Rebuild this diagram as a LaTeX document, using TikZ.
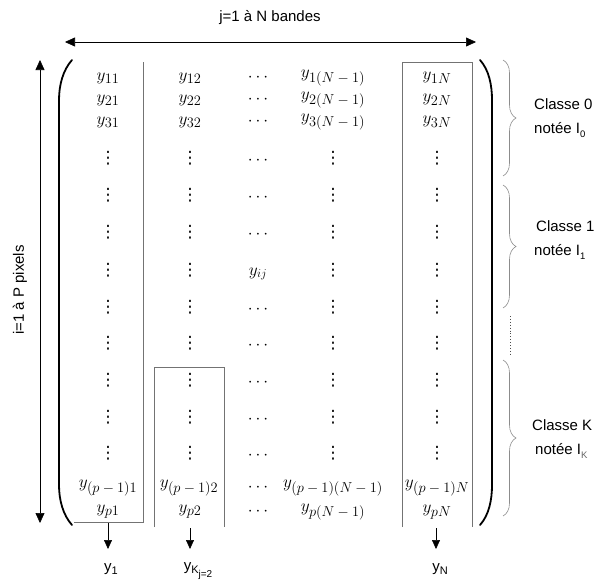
\documentclass[tikz,border=0pt]{standalone}
\usepackage[no-math]{fontspec}
\newfontfamily\lab{Liberation Sans}
\newfontfamily\dvs{DejaVu Sans}
\usetikzlibrary{arrows.meta,decorations.pathreplacing}
\newcommand\mysub[1]{y_{\mbox{\fontsize{14.5}{14.5}\selectfont$#1$}}}
\newcommand\myvd{{\dvs\fontsize{17}{17}\selectfont ⋮}}
\newcommand\lsub[2][11]{\raisebox{-3.5pt}{\fontsize{#1}{#1}\selectfont #2}}
\begin{document}
\begin{tikzpicture}[x=1pt,y=-1pt,
  ent/.style={inner sep=0pt, font=\fontsize{18}{20}\selectfont},
  lab/.style={inner sep=0pt, font=\lab\fontsize{15}{17}\selectfont},
  boxline/.style={draw=black!55, line width=0.8pt},
  paren/.style={line width=1.8pt, line cap=round},
  arr/.style={-{Triangle[length=9pt,width=8pt]}, line width=0.6pt},
  dblarr/.style={{Triangle[length=10pt,width=9pt]}-{Triangle[length=10pt,width=9pt]}, line width=0.6pt},
  br/.style={draw=black!45, line width=0.6pt, decorate, decoration={brace, amplitude=13pt}}]
\useasboundingbox (0,0) rectangle (605,584);
% top and left labels / arrows
\node[lab] (jlab) at (270,18) {j=1 à N bandes};
\coordinate (hl) at (65,42);
\coordinate (hr) at (476,42);
\draw[dblarr] (hl) -- (hr);
\coordinate (vt) at (40,60);
\coordinate (vb) at (40,523);
\draw[dblarr] (vt) -- (vb);
\node[lab, rotate=90] (ilab) at (20,290) {i=1 à P pixels};
% parentheses
\draw[paren] (72,60) .. controls (63,70) and (59,85) .. (59,100) -- (59,485) .. controls (59,500) and (63,515) .. (72,525);
\draw[paren] (480,60) .. controls (489,70) and (492,85) .. (492,100) -- (492,485) .. controls (492,500) and (489,515) .. (480,525);
% boxes
\draw[boxline] (143,62) -- (143,522) -- (74,522);
\draw[boxline] (154,527) -- (154,367) -- (224,367) -- (224,527);
\draw[boxline] (402,527) -- (402,62) -- (472,62) -- (472,527);
% matrix entries
\node[ent] (m1-1) at (108,78) {$\mysub{11}$};
\node[ent] (m1-2) at (190,78) {$\mysub{12}$};
\node[ent] (m1-3) at (258,78) {$\cdots$};
\node[ent] (m1-4) at (333,78) {$\mysub{1(N-1)}$};
\node[ent] (m1-5) at (437,78) {$\mysub{1N}$};
\node[ent] (m2-1) at (108,100) {$\mysub{21}$};
\node[ent] (m2-2) at (190,100) {$\mysub{22}$};
\node[ent] (m2-3) at (258,100) {$\cdots$};
\node[ent] (m2-4) at (333,100) {$\mysub{2(N-1)}$};
\node[ent] (m2-5) at (437,100) {$\mysub{2N}$};
\node[ent] (m3-1) at (108,122) {$\mysub{31}$};
\node[ent] (m3-2) at (190,122) {$\mysub{32}$};
\node[ent] (m3-3) at (258,122) {$\cdots$};
\node[ent] (m3-4) at (333,122) {$\mysub{3(N-1)}$};
\node[ent] (m3-5) at (437,122) {$\mysub{3N}$};
\foreach \yy/\r in {158/4,195/5,232/6,307/8,343/9,380/10,417/11,453/12} {
  \node[ent] (m\r-1) at (108,\yy) {\myvd};
  \node[ent] (m\r-2) at (190,\yy) {\myvd};
  \node[ent] (m\r-3) at (258,\yy+3) {$\cdots$};
  \node[ent] (m\r-4) at (333,\yy) {\myvd};
  \node[ent] (m\r-5) at (437,\yy) {\myvd};
}
\node[ent] (m7-1) at (108,270) {\myvd};
\node[ent] (m7-2) at (190,270) {\myvd};
\node[ent] (m7-3) at (258,274) {$y_{ij}$};
\node[ent] (m7-4) at (333,270) {\myvd};
\node[ent] (m7-5) at (437,270) {\myvd};
\node[ent] (m13-1) at (108,488) {$\mysub{(p-1)1}$};
\node[ent] (m13-2) at (189,488) {$\mysub{(p-1)2}$};
\node[ent] (m13-3) at (258,488) {$\cdots$};
\node[ent] (m13-4) at (333,488) {$\mysub{(p-1)(N-1)}$};
\node[ent] (m13-5) at (437,488) {$\mysub{(p-1)N}$};
\node[ent] (m14-1) at (108,512) {$\mysub{p1}$};
\node[ent] (m14-2) at (190,512) {$\mysub{p2}$};
\node[ent] (m14-3) at (258,512) {$\cdots$};
\node[ent] (m14-4) at (333,512) {$\mysub{p(N-1)}$};
\node[ent] (m14-5) at (437,512) {$\mysub{pN}$};
% down arrows and vector labels
\coordinate (a1s) at (108,523);
\coordinate (a1e) at (108,549);
\coordinate (a2s) at (190,528);
\coordinate (a2e) at (190,549);
\coordinate (a3s) at (436,528);
\coordinate (a3e) at (436,549);
\draw[arr] (a1s) -- (a1e);
\draw[arr] (a2s) -- (a2e);
\draw[arr] (a3s) -- (a3e);
\node[lab] (v1) at (111,569) {y\lsub{1}};
\node[lab] (v2) at (198,571) {y\lsub{K\lsub[10]{j=2}}};
\node[lab] (vN) at (440,569) {y\lsub{N}};
% braces and class labels
\coordinate (b0t) at (503,60);
\coordinate (b0b) at (503,176);
\coordinate (b1t) at (503,185);
\coordinate (b1b) at (503,308);
\coordinate (b2t) at (503,360);
\coordinate (b2b) at (503,516);
\draw[br] (b0t) -- (b0b);
\draw[br] (b1t) -- (b1b);
\draw[br] (b2t) -- (b2b);
\coordinate (dt) at (510,316);
\coordinate (db) at (510,356);
\draw[dotted, line width=0.9pt, black!70] (dt) -- (db);
\node[lab, anchor=west] (c0a) at (534,104) {Classe 0};
\node[lab, anchor=west] (c0b) at (534,130) {notée I\lsub[9.5]{0}};
\node[lab, anchor=west] (c1a) at (536,226) {Classe 1};
\node[lab, anchor=west] (c1b) at (534,252) {notée I\lsub[9.5]{1}};
\node[lab, anchor=west] (cka) at (532,425) {Classe K};
\node[lab, anchor=west] (ckb) at (535,451) {notée I\lsub[9.5]{\color{black!60}K}};
\end{tikzpicture}
\end{document}
